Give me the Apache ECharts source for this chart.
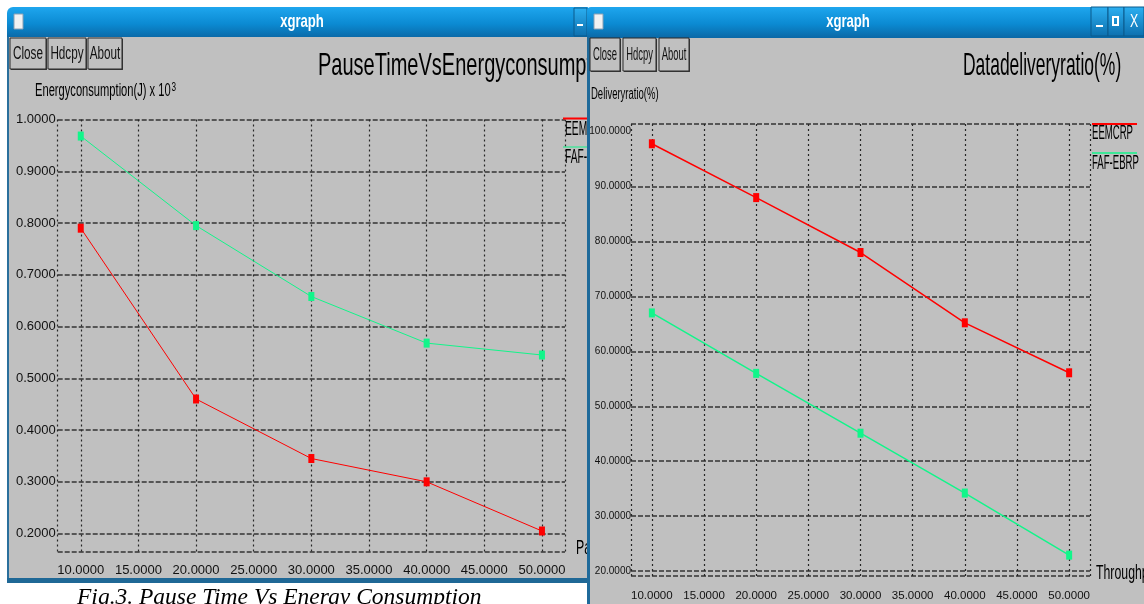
<!DOCTYPE html>
<html><head><meta charset="utf-8">
<script src="https://cdn.jsdelivr.net/npm/echarts@6/dist/echarts.min.js"></script>
<style>html,body{margin:0;padding:0;background:#fff;}#c{width:1144px;height:604px;}</style>
</head><body><div id="c"></div>
<script>
// ---------- data ----------
const seriesNames = ['EEMCRP', 'FAF-EBRP'];
const pauseTimes = [10, 20, 30, 40, 50];
const eemcrpEnergy = [0.79, 0.46, 0.345, 0.30, 0.205];
const fafEbrpEnergy = [0.968, 0.795, 0.658, 0.568, 0.545];
const eemcrpDelivery = [97.8, 88.0, 78.0, 65.2, 56.1];
const fafEbrpDelivery = [67.0, 56.0, 45.1, 34.2, 22.9];
const xTickValues = [10, 15, 20, 25, 30, 35, 40, 45, 50];
const energyTickValues = [0.2, 0.3, 0.4, 0.5, 0.6, 0.7, 0.8, 0.9, 1.0];
const deliveryTickValues = [20, 30, 40, 50, 60, 70, 80, 90, 100];
const leftTitle = 'PauseTimeVsEnergyconsumption';
const rightTitle = 'Datadeliveryratio(%)';
const leftYName = 'Energyconsumption(J) x 10{sup|3}';
const rightYName = 'Deliveryratio(%)';
const leftXName = 'PauseTime(s)';
const rightXName = 'Throughput';
const caption = 'Fig.3. Pause Time Vs Energy Consumption';
const buttonNames = ['Close', 'Hdcpy', 'About'];

// ---------- style helpers ----------
const F = "'Liberation Sans',Arial,sans-serif";
const RED = '#ff0000', GREEN = '#12f58a';
const fmt4 = v => Number(v).toFixed(4);

function txt(x, y, text, size, o) {
  o = o || {};
  const st = {text: text, fontSize: size, fontFamily: o.family || F, fontWeight: o.weight || 'normal',
    fontStyle: o.fstyle || 'normal', fill: o.fill || '#000', align: o.align || 'left', textAlign: o.align || 'left',
    verticalAlign: o.va || 'middle', textVerticalAlign: o.va || 'middle'};
  if (o.rich) st.rich = o.rich;
  return {type: 'text', x: x, y: y, z: o.z || 4, scaleX: o.sx || 0.82, scaleY: o.sy || 1, silent: true, style: st};
}
function rect(x, y, w, h, fill, o) {
  o = o || {};
  return {type: 'rect', x: x, y: y, z: o.z || 1, silent: true, shape: {x: 0, y: 0, width: w, height: h, r: o.r || 0},
    style: {fill: fill, stroke: o.stroke || null, lineWidth: o.lw || 0}};
}
const barGrad = {type: 'linear', x: 0, y: 0, x2: 0, y2: 1, colorStops: [
  {offset: 0, color: '#1ea6ee'}, {offset: 0.55, color: '#0b8ad2'}, {offset: 1, color: '#0a68a6'}]};
const btnGrad = {type: 'linear', x: 0, y: 0, x2: 0, y2: 1, colorStops: [
  {offset: 0, color: '#2cb0f2'}, {offset: 1, color: '#0c6fae'}]};

function buttons(boxes, y, h, size, sy, z) {
  const out = [];
  boxes.forEach((b, i) => {
    out.push(rect(b[0] + 1, y + 1, b[1] - b[0], h, '#3a3a3a', {z: z}));
    out.push(rect(b[0], y, b[1] - b[0], h, '#c0c0c0', {z: z, stroke: '#2a2a2a', lw: 1}));
    out.push(txt((b[0] + b[1]) / 2, y + h / 2, buttonNames[i], size, {align: 'center', sy: sy, z: z + 1, fill: '#111'}));
  });
  return out;
}

const graphics = [].concat(
  // left window chrome
  [
    rect(7, 7, 581, 31, barGrad, {r: [6, 0, 0, 0]}),
    rect(9, 37, 579, 541, '#c0c0c0'),
    rect(7, 37, 2, 546, '#2a6f9c'),
    rect(7, 578, 581, 5, '#1f6896'),
    rect(14, 14, 9, 15, '#f2f2f2', {stroke: '#8aa0b4', lw: 1}),
    rect(574, 8, 13, 28, btnGrad, {stroke: '#0a5a8c', lw: 1}),
    rect(577, 24, 6, 2, '#ffffff', {z: 2}),
    txt(302, 22, 'xgraph', 16, {weight: 'bold', fill: '#fff', align: 'center', sy: 1.2, z: 2}),
    txt(318, 66, leftTitle, 23.7, {sy: 1.35, sx: 0.845}),
    txt(35, 91, leftYName, 13.6, {sy: 1.3, rich: {sup: {fontSize: 10, fontFamily: F, verticalAlign: 'top', padding: [0, 0, 6, 1]}}}),
    {type: 'line', z: 4, silent: true, shape: {x1: 563, y1: 118.5, x2: 590, y2: 118.5}, style: {stroke: RED, lineWidth: 2}},
    txt(565, 129, seriesNames[0], 12.5, {sy: 1.6}),
    {type: 'line', z: 4, silent: true, shape: {x1: 563, y1: 147, x2: 590, y2: 147}, style: {stroke: GREEN, lineWidth: 1}},
    txt(565, 157, seriesNames[1], 12.5, {sy: 1.6}),
    txt(576, 549, leftXName, 15, {sy: 1.3}),
    txt(77, 598, caption, 23.5, {family: "'Liberation Serif','Times New Roman',serif", fstyle: 'italic', z: 2, sx: 1})
  ],
  buttons([[10, 46], [48, 86], [88, 122]], 38, 31, 14.3, 1.3, 3),
  // right window chrome
  [
    rect(587, 37, 557, 567, '#c0c0c0', {z: 5}),
    rect(587, 7, 557, 31, barGrad, {z: 5, r: [4, 0, 0, 0]}),
    rect(587, 37, 3, 567, '#1f6a9a', {z: 5}),
    rect(594, 14, 9, 15, '#f2f2f2', {z: 6, stroke: '#8aa0b4', lw: 1}),
    rect(1091, 7, 17, 29, btnGrad, {z: 6, stroke: '#0a5a8c', lw: 1}),
    rect(1108, 7, 16, 29, btnGrad, {z: 6, stroke: '#0a5a8c', lw: 1}),
    rect(1124, 7, 20, 29, btnGrad, {z: 6, stroke: '#0a5a8c', lw: 1}),
    rect(1096, 25, 7, 2, '#ffffff', {z: 7}),
    rect(1113, 17, 5, 8, null, {z: 7, stroke: '#ffffff', lw: 2}),
    txt(1134, 22, 'X', 15, {fill: '#fff', align: 'center', sy: 1.2, z: 7}),
    txt(848, 22, 'xgraph', 16, {weight: 'bold', fill: '#fff', align: 'center', sy: 1.2, z: 7}),
    txt(963, 66, rightTitle, 21.3, {sy: 1.45, z: 8}),
    txt(591, 94, rightYName, 11.6, {sy: 1.5, z: 8}),
    {type: 'line', z: 8, silent: true, shape: {x1: 1092, y1: 124, x2: 1137, y2: 124}, style: {stroke: RED, lineWidth: 2}},
    txt(1092, 134, seriesNames[0], 11.7, {sy: 1.7, z: 8}),
    {type: 'line', z: 8, silent: true, shape: {x1: 1092, y1: 153, x2: 1137, y2: 153}, style: {stroke: GREEN, lineWidth: 1.5}},
    txt(1092, 164, seriesNames[1], 11.7, {sy: 1.7, z: 8}),
    txt(1096, 574, rightXName, 15, {sy: 1.3, z: 8})
  ],
  buttons([[590, 620], [623, 656], [659, 689]], 38, 33, 11.5, 1.6, 8)
);

function xAxisDef(gridIndex, z, size, margin) {
  return {
    type: 'value', gridIndex: gridIndex, min: 8, max: 52, z: z,
    axisLine: {show: false}, axisTick: {show: false, customValues: [8].concat(xTickValues, [52])},
    axisLabel: {customValues: xTickValues, formatter: fmt4, fontFamily: F, fontSize: size, color: '#111',
      margin: margin, hideOverlap: false},
    splitLine: {show: true, lineStyle: {color: '#262626', width: 1.2, type: [2, 3]}}
  };
}

const option = {
  backgroundColor: '#ffffff',
  animation: false,
  graphic: {elements: graphics},
  grid: [
    {left: 57.7, top: 119.5, width: 507.3, height: 432.2, z: 2},
    {left: 631, top: 124, width: 459, height: 452, z: 6}
  ],
  xAxis: [xAxisDef(0, 2, 13, 12), xAxisDef(1, 6, 11.5, 14)],
  yAxis: [
    {type: 'value', gridIndex: 0, min: 0.165, max: 1.0, z: 2,
     axisLine: {show: false}, axisTick: {show: false, customValues: [0.165].concat(energyTickValues)},
     axisLabel: {customValues: energyTickValues, formatter: fmt4, fontFamily: F, fontSize: 13, color: '#111', margin: 2},
     splitLine: {show: true, lineStyle: {color: '#333', width: 1.5, type: [5, 2]}}},
    {type: 'value', gridIndex: 1, min: 19.1, max: 101.4, z: 6,
     axisLine: {show: false}, axisTick: {show: false, customValues: [19.1].concat(deliveryTickValues.slice(0, -1), [101.4])},
     axisLabel: {customValues: deliveryTickValues, formatter: fmt4, fontFamily: F, fontSize: 10, color: '#111', margin: 0},
     splitLine: {show: true, lineStyle: {color: '#333', width: 1.5, type: [5, 2]}}}
  ],
  series: [
    {name: seriesNames[0], type: 'line', xAxisIndex: 0, yAxisIndex: 0, z: 3,
     data: pauseTimes.map((x, i) => [x, eemcrpEnergy[i]]),
     symbol: 'rect', symbolSize: [6, 9], itemStyle: {color: RED}, lineStyle: {color: RED, width: 1}},
    {name: seriesNames[1], type: 'line', xAxisIndex: 0, yAxisIndex: 0, z: 3,
     data: pauseTimes.map((x, i) => [x, fafEbrpEnergy[i]]),
     symbol: 'rect', symbolSize: [6, 9], itemStyle: {color: GREEN}, lineStyle: {color: GREEN, width: 1}},
    {name: seriesNames[0], type: 'line', xAxisIndex: 1, yAxisIndex: 1, z: 7,
     data: pauseTimes.map((x, i) => [x, eemcrpDelivery[i]]),
     symbol: 'rect', symbolSize: [6, 9], itemStyle: {color: RED}, lineStyle: {color: RED, width: 1.5}},
    {name: seriesNames[1], type: 'line', xAxisIndex: 1, yAxisIndex: 1, z: 7,
     data: pauseTimes.map((x, i) => [x, fafEbrpDelivery[i]]),
     symbol: 'rect', symbolSize: [6, 9], itemStyle: {color: GREEN}, lineStyle: {color: GREEN, width: 1.5}}
  ]
};
const chart = echarts.init(document.getElementById('c'), null, {renderer: 'canvas'});
chart.setOption(option);
</script>
</body></html>
